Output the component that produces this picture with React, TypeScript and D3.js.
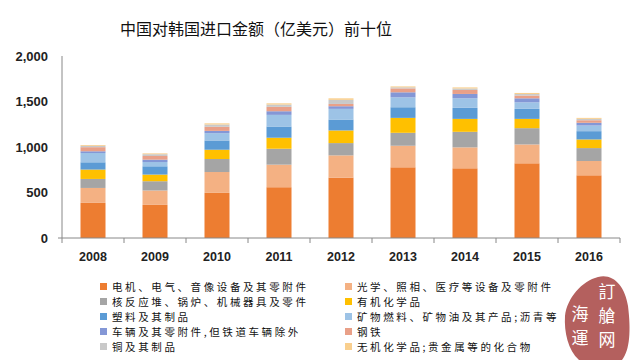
import React from 'react';
import * as d3 from 'd3';

// 年份
const years = ['2008', '2009', '2010', '2011', '2012', '2013', '2014', '2015', '2016'];

// 十类商品，单位：亿美元
const electrical = [386, 364, 496, 558, 664, 777, 766, 821, 689];
const optical = [164, 158, 229, 248, 244, 237, 230, 207, 157];
const machinery = [99, 102, 143, 175, 135, 142, 171, 179, 142];
const organic = [103, 73, 102, 121, 139, 164, 142, 102, 95];
const plastics = [80, 91, 102, 123, 120, 117, 121, 110, 91];
const mineral = [102, 47, 80, 128, 117, 109, 105, 72, 62];
const vehicles = [19, 26, 25, 40, 29, 55, 48, 44, 30];
const steel = [45, 40, 45, 48, 25, 43, 44, 30, 28];
const copper = [15, 20, 25, 25, 45, 12, 16, 17, 15];
const inorganic = [9, 9, 13, 14, 17, 10, 12, 12, 11];

const seriesNames = [
  '电机、电气、音像设备及其零附件',
  '光学、照相、医疗等设备及零附件',
  '核反应堆、锅炉、机械器具及零件',
  '有机化学品',
  '塑料及其制品',
  '矿物燃料、矿物油及其产品;沥青等',
  '车辆及其零附件,但铁道车辆除外',
  '钢铁',
  '铜及其制品',
  '无机化学品;贵金属等的化合物',
];
const seriesValues = [electrical, optical, machinery, organic, plastics, mineral, vehicles, steel, copper, inorganic];
const colors = ['#ED7D31', '#F4B183', '#A5A5A5', '#FFC000', '#5B9BD5', '#9DC3E6', '#8497D6', '#E9A088', '#C9C9C9', '#F9CF8E'];

const yTicks = [0, 500, 1000, 1500, 2000];

const W = 640;
const H = 360;
const plotLeft = 62;
const plotRight = 620;
const plotTop = 56;
const plotBottom = 238;

const cjk = '"Noto Sans CJK SC", sans-serif';
const latin = '"Liberation Sans", Arial, sans-serif';

const App = () => {
  const keys = seriesNames.map((_, i) => `s${i}`);
  const rows = years.map((y, j) => {
    const r: any = { year: y };
    keys.forEach((k, i) => (r[k] = seriesValues[i][j]));
    return r;
  });
  const stacked = d3.stack().keys(keys)(rows);

  const x = d3.scaleBand().domain(years).range([plotLeft, plotRight]).padding(0);
  const y = d3.scaleLinear().domain([0, 2000]).range([plotBottom, plotTop]);
  const barW = 25;

  // legend: two columns
  const legendRows = [287, 302, 317, 332, 347];

  return (
    <svg width={W} height={H} style={{ position: 'absolute', left: 0, top: 0, background: '#fff' }}>
      <text x={256} y={35} textAnchor="middle" fontFamily={cjk} fontSize={16} fill="#111">
        中国对韩国进口金额（亿美元）前十位
      </text>

      {/* y axis */}
      <line x1={plotLeft} x2={plotLeft} y1={plotTop} y2={plotBottom} stroke="#888" />
      <line x1={plotLeft - 4} x2={plotLeft} y1={plotBottom} y2={plotBottom} stroke="#888" />
      {yTicks.map(t => (
        <text key={t} x={48} y={y(t)} dy="0.35em" textAnchor="end" fontFamily={latin} fontWeight="bold" fontSize={13} fill="#222">
          {d3.format(',')(t)}
        </text>
      ))}

      {/* bars */}
      {stacked.map((s, i) => (
        <g key={s.key} fill={colors[i]}>
          {s.map((d, j) => (
            <rect
              key={j}
              x={(x(years[j]) as number) + x.bandwidth() / 2 - barW / 2}
              y={y(d[1])}
              width={barW}
              height={y(d[0]) - y(d[1])}
            />
          ))}
        </g>
      ))}

      {/* x axis */}
      <line x1={plotLeft} x2={plotRight} y1={plotBottom} y2={plotBottom} stroke="#888" />
      {d3.range(years.length + 1).map(i => (
        <line key={i} x1={plotLeft + i * x.step()} x2={plotLeft + i * x.step()} y1={plotBottom} y2={plotBottom + 5} stroke="#888" />
      ))}
      {years.map(yr => (
        <text key={yr} x={(x(yr) as number) + x.bandwidth() / 2} y={261} textAnchor="middle" fontFamily={latin} fontWeight="bold" fontSize={12.5} fill="#222">
          {yr}
        </text>
      ))}

      {/* legend */}
      {seriesNames.map((name, i) => {
        const col = i % 2;
        const row = Math.floor(i / 2);
        const lx = col === 0 ? 100 : 345;
        const ly = legendRows[row];
        return (
          <g key={name}>
            <rect x={lx} y={ly - 4} width={7} height={7} fill={colors[i]} />
            <text x={lx + 12} y={ly} dy="0.35em" fontFamily={cjk} fontSize={10.5} letterSpacing={2.6} fill="#111">
              {name}
            </text>
          </g>
        );
      })}

      {/* watermark stamp */}
      <path
        d="M598,277 C613,273 625,286 628,306 C631,330 630,350 622,360 L579,360 C568,350 564,332 565,316 C567,298 582,281 598,277 Z"
        fill="#B4605E"
      />
      {['訂', '艙', '网'].map((c, i) => (
        <text key={c} x={607} y={292 + i * 24} textAnchor="middle" dy="0.35em" fontFamily={cjk} fontSize={17} fill="#fff">
          {c}
        </text>
      ))}
      {['海', '運'].map((c, i) => (
        <text key={c} x={580} y={314 + i * 24} textAnchor="middle" dy="0.35em" fontFamily={cjk} fontSize={17} fill="#fff">
          {c}
        </text>
      ))}
    </svg>
  );
};

export default App;
